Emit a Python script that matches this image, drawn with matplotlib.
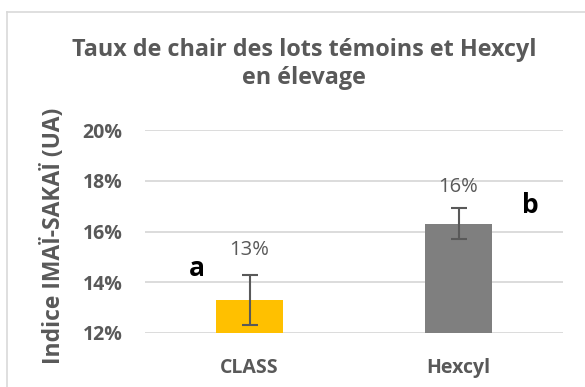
import numpy as np
import matplotlib
matplotlib.use("Agg")
import matplotlib.pyplot as plt
from matplotlib.lines import Line2D

plt.rcParams['font.family'] = ['Open Sans', 'DejaVu Sans']

# Données
lots = ['CLASS', 'Hexcyl']
taux = [0.133, 0.163]
erreurs = [0.0097, 0.0061]
etiquettes = ['13%', '16%']
groupes = ['a', 'b']
couleurs = ['#FFC000', '#7F7F7F']
yticks = [0.12, 0.14, 0.16, 0.18, 0.20]

gris = '#595959'

fig = plt.figure(figsize=(5.85, 3.87), dpi=100)
W, H = 585, 387

# cadre du graphique
fig.add_artist(Line2D([7 / W, 1], [1 - 12 / H] * 2, color='#D9D9D9', lw=1.2))
fig.add_artist(Line2D([7 / W] * 2, [0, 1 - 12 / H], color='#D9D9D9', lw=1.2))

ax = fig.add_axes([145 / W, 1 - 333 / H, (563 - 145) / W, (333 - 130) / H])
x = np.arange(len(lots))
ax.bar(x, taux, width=0.316, color=couleurs, zorder=2)
ax.errorbar(x, taux, yerr=erreurs, fmt='none', ecolor=gris, elinewidth=1.5,
            capsize=6, capthick=1.5, zorder=3)

ax.set_xlim(-0.5, 1.5)
ax.set_ylim(0.12, 0.20)
ax.set_yticks(yticks)
ax.set_yticklabels([f'{int(round(v * 100))}%' for v in yticks])
ax.set_xticks(x)
ax.set_xticklabels(lots)
ax.yaxis.grid(True, color='#D9D9D9', lw=1.3, zorder=0)
ax.set_axisbelow(True)
for s in ax.spines.values():
    s.set_visible(False)
ax.tick_params(axis='both', length=0, labelcolor=gris, labelsize=14)
ax.tick_params(axis='y', pad=16)
ax.tick_params(axis='x', pad=18)
for lab in ax.get_xticklabels() + ax.get_yticklabels():
    lab.set_fontweight('bold')

# valeurs au-dessus des barres
pos_etiq = [0.1527, 0.1775]
for xi, txt, yv in zip(x, etiquettes, pos_etiq):
    ax.text(xi, yv, txt, ha='center', va='center', fontsize=14.5, color=gris)

# lettres de significativité
pos_lettres = [(-0.25, 0.1456), (1.342, 0.1704)]
for (xl, yl), g in zip(pos_lettres, groupes):
    ax.text(xl, yl, g, ha='center', va='center', fontsize=19,
            fontweight='bold', color='black')

fig.text(304 / W, 1 - 64 / H, 'Taux de chair des lots témoins et Hexcyl\nen élevage',
         ha='center', va='center', fontsize=16.8, fontweight='bold', color=gris,
         linespacing=1.22)
fig.text(54 / W, 1 - 236 / H, 'Indice IMAÏ-SAKAÏ (UA)', rotation=90,
         ha='center', va='center', fontsize=16.5, fontweight='bold', color=gris)

fig.savefig('out.png', dpi=100)
